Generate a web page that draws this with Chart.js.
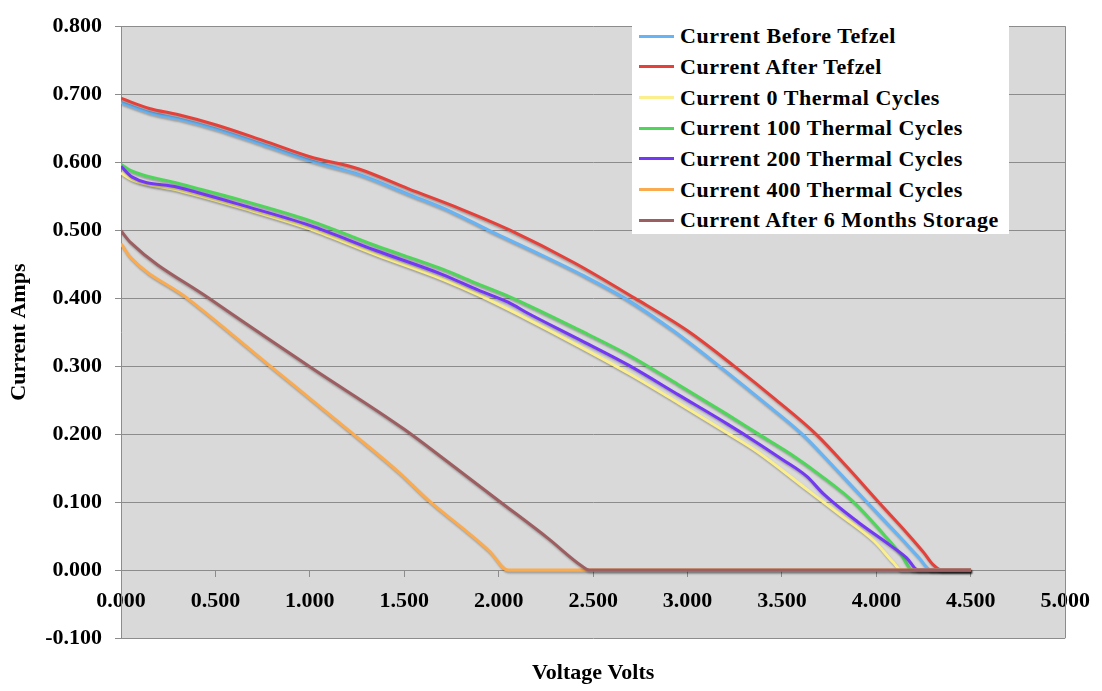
<!DOCTYPE html>
<html>
<head>
<meta charset="utf-8">
<script src="https://cdn.jsdelivr.net/npm/chart.js@4.4.1/dist/chart.umd.min.js"></script>
<style>
  html, body { margin: 0; padding: 0; background: #fff; }
  #wrap { position: relative; width: 1102px; height: 691px; }
  #legend {
    position: absolute; left: 632px; top: 21px; width: 377px; height: 213px;
    background: #fff; font: bold 22px "Liberation Serif", "Times New Roman", serif;
    letter-spacing: 0.55px; color: #000;
  }
  .row { height: 30.67px; display: flex; align-items: center; white-space: nowrap; }
  .sw { width: 35px; height: 3px; margin: 0 6px 0 7px; flex: none; }
</style>
</head>
<body>
<div id="wrap">
  <canvas id="iv"></canvas>
  <div id="legend"></div>
</div>
<script>
// ── series ─────────────────────────────────────────────────────────────────
const seriesLabels = [
  'Current Before Tefzel',
  'Current After Tefzel',
  'Current 0 Thermal Cycles',
  'Current 100 Thermal Cycles',
  'Current 200 Thermal Cycles',
  'Current 400 Thermal Cycles',
  'Current After 6 Months Storage',
];
const seriesColors = ['#66b3f5', '#e5413b', '#fbee8c', '#4fd65a', '#7338f5', '#fbab4f', '#9c5e60'];

const vBeforeTefzel = [0, 0.15, 0.3, 0.5, 0.75, 1.03, 1.26, 1.52, 1.75, 1.946, 2.2, 2.45, 2.667, 2.92, 3.168, 3.4, 3.607, 3.78, 3.949, 4.12, 4.22, 4.29, 4.5];
const iBeforeTefzel = [0.688, 0.673, 0.664, 0.649, 0.626, 0.600, 0.582, 0.553, 0.527, 0.500, 0.467, 0.433, 0.400, 0.353, 0.300, 0.248, 0.200, 0.150, 0.100, 0.050, 0.020, 0.000, 0.000];

const vAfterTefzel = [0, 0.15, 0.3, 0.5, 0.75, 1.0, 1.26, 1.52, 1.8, 2.06, 2.4, 2.72, 3.0, 3.247, 3.47, 3.68, 3.85, 4.011, 4.16, 4.25, 4.3, 4.345, 4.5];
const iAfterTefzel = [0.694, 0.679, 0.670, 0.655, 0.632, 0.608, 0.590, 0.561, 0.531, 0.500, 0.452, 0.400, 0.352, 0.300, 0.250, 0.200, 0.150, 0.100, 0.055, 0.026, 0.008, 0.000, 0.000];

const vCycles0 = [0, 0.06, 0.3, 0.65, 1.0, 1.35, 1.7, 1.89, 2.16, 2.42, 2.69, 2.95, 3.21, 3.37, 3.63, 3.81, 3.99, 4.09, 4.13, 4.5];
const iCycles0 = [0.584, 0.574, 0.559, 0.532, 0.502, 0.464, 0.428, 0.405, 0.368, 0.330, 0.289, 0.246, 0.202, 0.174, 0.119, 0.081, 0.042, 0.011, 0.000, 0.000];

const vCycles100 = [0, 0.05, 0.3, 0.65, 1.0, 1.35, 1.7, 1.89, 2.05, 2.16, 2.42, 2.69, 2.95, 3.21, 3.37, 3.55, 3.72, 3.88, 4.04, 4.13, 4.19, 4.5];
const iCycles100 = [0.597, 0.588, 0.569, 0.543, 0.514, 0.477, 0.443, 0.421, 0.403, 0.389, 0.354, 0.316, 0.273, 0.229, 0.201, 0.170, 0.136, 0.100, 0.052, 0.023, 0.000, 0.000];

const vCycles200 = [0, 0.06, 0.3, 0.65, 1.0, 1.35, 1.7, 1.89, 2.05, 2.16, 2.42, 2.69, 2.95, 3.21, 3.37, 3.5, 3.63, 3.72, 3.9, 4.07, 4.16, 4.22, 4.5];
const iCycles200 = [0.594, 0.578, 0.563, 0.536, 0.507, 0.470, 0.435, 0.412, 0.394, 0.377, 0.340, 0.301, 0.258, 0.215, 0.187, 0.163, 0.138, 0.112, 0.071, 0.037, 0.018, 0.000, 0.000];

const vCycles400 = [0, 0.05, 0.35, 0.79, 1.23, 1.47, 1.63, 1.82, 1.95, 2.05, 4.5];
const iCycles400 = [0.480, 0.460, 0.400, 0.300, 0.200, 0.144, 0.102, 0.059, 0.028, 0.000, 0.000];

const vStorage = [0, 0.05, 0.47, 1.0, 1.5, 1.74, 2.0, 2.26, 2.44, 2.48, 4.5];
const iStorage = [0.499, 0.482, 0.399, 0.299, 0.207, 0.157, 0.102, 0.047, 0.006, 0.000, 0.000];

const xTicks = { min: 0, max: 5, step: 0.5 };
const yTicks = { min: -0.1, max: 0.8, step: 0.1 };

const seriesV = [vBeforeTefzel, vAfterTefzel, vCycles0, vCycles100, vCycles200, vCycles400, vStorage];
const seriesI = [iBeforeTefzel, iAfterTefzel, iCycles0, iCycles100, iCycles200, iCycles400, iStorage];

// ── helpers ───────────────────────────────────────────────────────────────
const FONT = { family: '"Liberation Serif", "Times New Roman", serif', size: 22, weight: 'bold' };
const GRID = '#8c8c8c';
const fmt3 = v => (Math.abs(v) < 1e-9 ? 0 : v).toFixed(3);

// plot area fill + frame, and the soft drop shadow Excel puts under lines
const plotArea = {
  id: 'plotArea',
  beforeDraw(chart) {
    const { ctx, chartArea: a } = chart;
    ctx.save();
    ctx.fillStyle = '#d9d9d9';
    ctx.fillRect(a.left, a.top, a.right - a.left, a.bottom - a.top);
    ctx.restore();
  },
  beforeDatasetsDraw(chart) {
    const ctx = chart.ctx;
    ctx.save();
    ctx.shadowColor = 'rgba(0,0,0,0.28)';
    ctx.shadowOffsetX = 1;
    ctx.shadowOffsetY = 2;
    ctx.shadowBlur = 2;
  },
  afterDatasetsDraw(chart) {
    chart.ctx.restore();
  },
  afterDraw(chart) {
    const { ctx, chartArea: a } = chart;
    ctx.save();
    ctx.strokeStyle = GRID;
    ctx.lineWidth = 1;
    ctx.beginPath();
    ctx.moveTo(Math.round(a.right) + 0.5, a.top);
    ctx.lineTo(Math.round(a.right) + 0.5, a.bottom);
    ctx.stroke();
    ctx.restore();
  },
};

const datasets = seriesLabels.map((label, i) => ({
  label,
  data: seriesV[i].map((v, k) => ({ x: v, y: seriesI[i][k] })),
  borderColor: seriesColors[i],
  backgroundColor: seriesColors[i],
  borderWidth: 3,
  pointRadius: 0,
  cubicInterpolationMode: 'monotone',
  fill: false,
  order: seriesLabels.length - i, // later series on top, like the original
}));

new Chart(document.getElementById('iv'), {
  type: 'line',
  data: { datasets },
  options: {
    responsive: true,
    maintainAspectRatio: false,
    animation: false,
    layout: { padding: { top: 15, right: 33, left: 0, bottom: 0 } },
    plugins: { legend: { display: false }, tooltip: { enabled: false } },
    scales: {
      x: {
        type: 'linear',
        position: { y: 0 },
        min: xTicks.min, max: xTicks.max,
        ticks: { stepSize: xTicks.step, callback: fmt3, font: FONT, color: '#000', padding: 12, maxRotation: 0, autoSkip: false },
        grid: { drawOnChartArea: false, tickLength: 6, color: GRID },
        border: { color: GRID },
        afterFit: s => { s.height = 0; },
      },
      x2: {
        type: 'linear',
        position: 'bottom',
        min: xTicks.min, max: xTicks.max,
        ticks: { display: false },
        grid: { display: false },
        border: { display: false },
        title: { display: true, text: 'Voltage Volts', font: FONT, color: '#000', padding: { top: 0, bottom: 4 } },
        afterFit: s => { s.height = 53; },
      },
      y: {
        type: 'linear',
        min: yTicks.min, max: yTicks.max,
        ticks: { stepSize: yTicks.step, callback: fmt3, font: FONT, color: '#000', padding: 13 },
        grid: { color: GRID, tickLength: 6 },
        border: { color: GRID },
        title: { display: true, text: 'Current Amps', font: FONT, color: '#000', padding: { top: 6, bottom: 0 } },
        afterFit: s => { s.width = 121; },
      },
    },
  },
  plugins: [plotArea],
});

// legend box inside the plot, as in the original
const legend = document.getElementById('legend');
seriesLabels.forEach((label, i) => {
  const row = document.createElement('div');
  row.className = 'row';
  const sw = document.createElement('span');
  sw.className = 'sw';
  sw.style.background = seriesColors[i];
  const txt = document.createElement('span');
  txt.textContent = label;
  row.appendChild(sw);
  row.appendChild(txt);
  legend.appendChild(row);
});
</script>
</body>
</html>
